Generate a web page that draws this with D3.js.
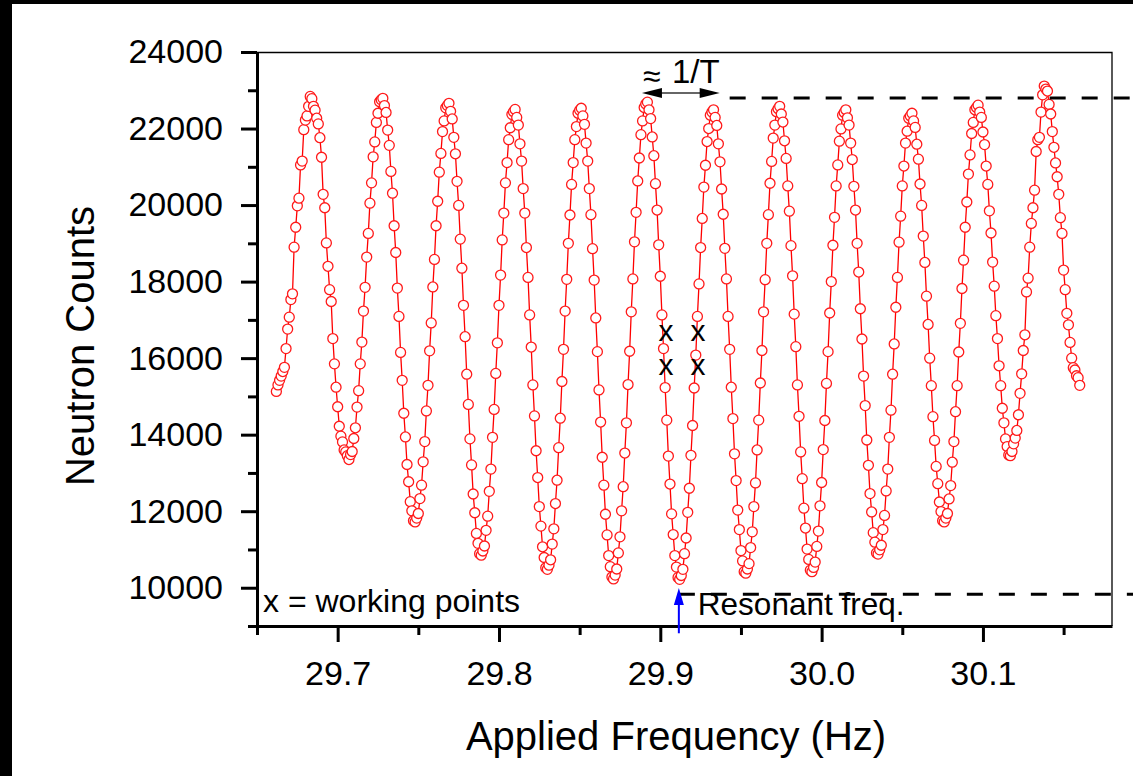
<!DOCTYPE html>
<html>
<head>
<meta charset="utf-8">
<script src="https://cdn.jsdelivr.net/npm/d3@7"></script>
<style>
    body { margin: 0; background: #fff; }
    #chart { width: 1133px; height: 776px; }
    text { font-family: "Liberation Sans", Arial, sans-serif; fill: #000; }
</style>
</head>
<body>
<div id="chart"></div>
<script>

// applied frequency of each point (Hz)
const freq = [
    29.662,29.663,29.664,29.665,29.666,29.667,29.668,29.669,29.670,29.671,
    29.672,29.673,29.674,29.675,29.676,29.677,29.678,29.679,29.680,29.681,
    29.682,29.683,29.684,29.685,29.686,29.687,29.688,29.689,29.690,29.691,
    29.692,29.693,29.694,29.695,29.696,29.697,29.698,29.699,29.700,29.701,
    29.702,29.703,29.704,29.705,29.706,29.707,29.708,29.709,29.710,29.711,
    29.712,29.713,29.714,29.715,29.716,29.717,29.718,29.719,29.720,29.721,
    29.722,29.723,29.724,29.725,29.726,29.727,29.728,29.729,29.730,29.731,
    29.732,29.733,29.734,29.735,29.736,29.737,29.738,29.739,29.740,29.741,
    29.742,29.743,29.744,29.745,29.746,29.747,29.748,29.749,29.750,29.751,
    29.752,29.753,29.754,29.755,29.756,29.757,29.758,29.759,29.760,29.761,
    29.762,29.763,29.764,29.765,29.766,29.767,29.768,29.769,29.770,29.771,
    29.772,29.773,29.774,29.775,29.776,29.777,29.778,29.779,29.780,29.781,
    29.782,29.783,29.784,29.785,29.786,29.787,29.788,29.789,29.790,29.791,
    29.792,29.793,29.794,29.795,29.796,29.797,29.798,29.799,29.800,29.801,
    29.802,29.803,29.804,29.805,29.806,29.807,29.808,29.809,29.810,29.811,
    29.812,29.813,29.814,29.815,29.816,29.817,29.818,29.819,29.820,29.821,
    29.822,29.823,29.824,29.825,29.826,29.827,29.828,29.829,29.830,29.831,
    29.832,29.833,29.834,29.835,29.836,29.837,29.838,29.839,29.840,29.841,
    29.842,29.843,29.844,29.845,29.846,29.847,29.848,29.849,29.850,29.851,
    29.852,29.853,29.854,29.855,29.856,29.857,29.858,29.859,29.860,29.861,
    29.862,29.863,29.864,29.865,29.866,29.867,29.868,29.869,29.870,29.871,
    29.872,29.873,29.874,29.875,29.876,29.877,29.878,29.879,29.880,29.881,
    29.882,29.883,29.884,29.885,29.886,29.887,29.888,29.889,29.890,29.891,
    29.892,29.893,29.894,29.895,29.896,29.897,29.898,29.899,29.900,29.901,
    29.902,29.903,29.904,29.905,29.906,29.907,29.908,29.909,29.910,29.911,
    29.912,29.913,29.914,29.915,29.916,29.917,29.918,29.919,29.920,29.921,
    29.922,29.923,29.924,29.925,29.926,29.927,29.928,29.929,29.930,29.931,
    29.932,29.933,29.934,29.935,29.936,29.937,29.938,29.939,29.940,29.941,
    29.942,29.943,29.944,29.945,29.946,29.947,29.948,29.949,29.950,29.951,
    29.952,29.953,29.954,29.955,29.956,29.957,29.958,29.959,29.960,29.961,
    29.962,29.963,29.964,29.965,29.966,29.967,29.968,29.969,29.970,29.971,
    29.972,29.973,29.974,29.975,29.976,29.977,29.978,29.979,29.980,29.981,
    29.982,29.983,29.984,29.985,29.986,29.987,29.988,29.989,29.990,29.991,
    29.992,29.993,29.994,29.995,29.996,29.997,29.998,29.999,30.000,30.001,
    30.002,30.003,30.004,30.005,30.006,30.007,30.008,30.009,30.010,30.011,
    30.012,30.013,30.014,30.015,30.016,30.017,30.018,30.019,30.020,30.021,
    30.022,30.023,30.024,30.025,30.026,30.027,30.028,30.029,30.030,30.031,
    30.032,30.033,30.034,30.035,30.036,30.037,30.038,30.039,30.040,30.041,
    30.042,30.043,30.044,30.045,30.046,30.047,30.048,30.049,30.050,30.051,
    30.052,30.053,30.054,30.055,30.056,30.057,30.058,30.059,30.060,30.061,
    30.062,30.063,30.064,30.065,30.066,30.067,30.068,30.069,30.070,30.071,
    30.072,30.073,30.074,30.075,30.076,30.077,30.078,30.079,30.080,30.081,
    30.082,30.083,30.084,30.085,30.086,30.087,30.088,30.089,30.090,30.091,
    30.092,30.093,30.094,30.095,30.096,30.097,30.098,30.099,30.100,30.101,
    30.102,30.103,30.104,30.105,30.106,30.107,30.108,30.109,30.110,30.111,
    30.112,30.113,30.114,30.115,30.116,30.117,30.118,30.119,30.120,30.121,
    30.122,30.123,30.124,30.125,30.126,30.127,30.128,30.129,30.130,30.131,
    30.132,30.133,30.134,30.135,30.136,30.137,30.138,30.139,30.140,30.141,
    30.142,30.143,30.144,30.145,30.146,30.147,30.148,30.149,30.150,30.151,
    30.152,30.153,30.154,30.155,30.156,30.157,30.158,30.159,30.160
];

// neutron counts
const counts = [
    15130,15300,15420,15530,15650,15760,16250,16760,17070,17530,
    17680,18900,19420,19980,20180,21050,21150,21970,22220,22330,
    22580,22840,22780,22580,22480,22270,22120,21760,21250,20280,
    19930,19010,18400,17790,17480,16510,15850,15240,14730,14220,
    13960,13810,13600,13550,13450,13350,13480,13560,13900,14180,
    14720,15150,15850,16420,17230,17850,18640,19260,20050,20580,
    21260,21650,22160,22400,22700,22750,22790,22600,22420,21960,
    21560,20880,20310,19460,18760,17830,17090,16150,15420,14560,
    13940,13220,12770,12250,12010,11750,11720,11820,11940,12330,
    12680,13290,13820,14620,15290,16190,16920,17860,18580,19460,
    20100,20860,21350,21920,22200,22540,22600,22660,22450,22250,
    21770,21340,20620,19990,19110,18350,17380,16560,15580,14790,
    13890,13210,12450,11960,11420,11160,10890,10850,10960,11090,
    11500,11870,12520,13100,13930,14660,15600,16400,17380,18170,
    19090,19790,20580,21110,21710,22020,22370,22440,22500,22290,
    22090,21600,21150,20430,19790,18890,18110,17130,16290,15300,
    14490,13580,12880,12120,11610,11070,10790,10520,10480,10590,
    10730,11140,11540,12200,12810,13660,14430,15390,16230,17230,
    18060,19000,19740,20540,21110,21710,22050,22400,22480,22530,
    22330,22110,21620,21150,20430,19750,18860,18040,17050,16170,
    15170,14330,13410,12680,11920,11380,10840,10550,10280,10230,
    10330,10490,10910,11330,12010,12640,13520,14310,15310,16180,
    17210,18070,19040,19810,20630,21230,21840,22200,22550,22640,
    22690,22490,22260,21780,21290,20560,19870,18960,18140,17130,
    16250,15230,14380,13440,12710,11930,11390,10840,10540,10270,
    10220,10320,10480,10890,11300,11970,12600,13460,14240,15220,
    16080,17090,17940,18890,19650,20470,21040,21660,22000,22350,
    22430,22490,22290,22080,21600,21130,20420,19760,18870,18070,
    17090,16230,15240,14420,13500,12800,12030,11520,10970,10700,
    10420,10380,10490,10630,11050,11460,12120,12740,13600,14380,
    15350,16200,17210,18050,19000,19750,20570,21140,21750,22090,
    22440,22520,22580,22380,22170,21680,21220,20500,19840,18940,
    18150,17150,16300,15300,14480,13550,12850,12080,11560,11010,
    10740,10460,10420,10530,10670,11080,11480,12140,12750,13610,
    14370,15340,16170,17180,18000,18950,19680,20500,21050,21670,
    21990,22350,22420,22490,22280,22090,21620,21190,20490,19870,
    19000,18250,17290,16500,15530,14760,13860,13200,12460,11980,
    11440,11190,10910,10880,10990,11110,11520,11890,12530,13100,
    13930,14640,15580,16370,17330,18110,19030,19710,20500,21020,
    21620,21930,22270,22330,22400,22200,22030,21590,21200,20550,
    19990,19190,18500,17620,16880,16000,15280,14470,13850,13170,
    12720,12240,11990,11750,11720,11820,11940,12320,12670,13280,
    13820,14600,15280,16160,16910,17820,18560,19420,20080,20810,
    21310,21870,22160,22490,22550,22610,22430,22290,21910,21580,
    21020,20540,19850,19270,18510,17880,17110,16510,15800,15280,
    14690,14310,13890,13690,13470,13450,13560,13760,13910,14110,
    14520,15080,15590,16200,16610,17730,18090,18900,19520,19930,
    20390,21400,21710,21770,22430,22880,23110,23030,22980,22630,
    22380,21920,21510,21100,20740,20280,19670,19260,18300,17790,
    17170,16870,16410,16000,15750,15690,15540,15490,15290
];

// axis ticks
const xMajorTicks = [29.7, 29.8, 29.9, 30.0, 30.1];
const xMinorTicks = [29.65, 29.75, 29.85, 29.95, 30.05, 30.15];
const yMajorTicks = [10000, 12000, 14000, 16000, 18000, 20000, 22000, 24000];
const yMinorTicks = [9000, 11000, 13000, 15000, 17000, 19000, 21000, 23000];

// working points (x marks)
const workFreq = [29.9035, 29.9233, 29.9035, 29.9233];
const workCounts = [16650, 16650, 15770, 15770];

// annotation values
const resonantFreq = 29.9115;
const lowLevel = 9830;       // lower dashed line
const highLevel = 22800;     // upper dashed line
const periodStart = 29.8886; // 1/T arrow
const periodEnd = 29.9368;
const periodLevel = 22930;


class FringePlot {

    constructor(parentElement) {
        this.parentElement = parentElement;
        this.data = freq.map((f, i) => ({f: f, c: counts[i]}));
        this.initVis();
    }

    /*
     * Initialize visualization (frame, scales, axes)
     */
    initVis() {
        let vis = this;

        vis.totalWidth = 1133;
        vis.totalHeight = 776;
        vis.margin = {top: 52, right: 21, bottom: 150, left: 257};
        vis.width = vis.totalWidth - vis.margin.left - vis.margin.right;
        vis.height = vis.totalHeight - vis.margin.top - vis.margin.bottom;

        vis.root = d3.select("#" + vis.parentElement).append("svg")
            .attr("width", vis.totalWidth)
            .attr("height", vis.totalHeight);

        // black edges of the scanned page
        vis.root.append("rect")
            .attr("x", 0).attr("y", 0)
            .attr("width", vis.totalWidth).attr("height", 4)
            .attr("fill", "#000");
        vis.root.append("rect")
            .attr("x", 0).attr("y", 0)
            .attr("width", 12).attr("height", vis.totalHeight)
            .attr("fill", "#000");

        vis.svg = vis.root.append("g")
            .attr("transform", `translate(${vis.margin.left}, ${vis.margin.top})`);

        // Scales
        vis.x = d3.scaleLinear()
            .domain([29.65, 30.18])
            .range([0, vis.width]);

        vis.y = d3.scaleLinear()
            .domain([9000, 24000])
            .range([vis.height, 0]);

        // thin top and right border
        vis.svg.append("path")
            .attr("d", `M0,0.5H${vis.width}V${vis.height}`)
            .attr("fill", "none")
            .attr("stroke", "#000")
            .attr("stroke-width", 1.3);

        vis.updateVis();
    }

    /*
     * The drawing function
     */
    updateVis() {
        let vis = this;

        let line = d3.line()
            .x(d => vis.x(d.f))
            .y(d => vis.y(d.c));

        vis.svg.append("path")
            .datum(vis.data)
            .attr("d", line)
            .attr("fill", "none")
            .attr("stroke", "#ff0000")
            .attr("stroke-width", 1.3);

        vis.svg.selectAll(".pt")
            .data(vis.data)
            .enter().append("circle")
            .attr("class", "pt")
            .attr("cx", d => vis.x(d.f))
            .attr("cy", d => vis.y(d.c))
            .attr("r", 5)
            .attr("fill", "#fff")
            .attr("stroke", "#ff1a1a")
            .attr("stroke-width", 1.3);

        // Axes
        let yAxis = d3.axisLeft(vis.y)
            .tickValues(yMajorTicks)
            .tickSize(16)
            .tickSizeOuter(0)
            .tickPadding(18)
            .tickFormat(d3.format("d"));
        let yMinor = d3.axisLeft(vis.y)
            .tickValues(yMinorTicks)
            .tickSize(9)
            .tickFormat("");
        let xAxis = d3.axisBottom(vis.x)
            .tickValues(xMajorTicks)
            .tickSize(16)
            .tickSizeOuter(0)
            .tickPadding(19)
            .tickFormat(d3.format(".1f"));
        let xMinor = d3.axisBottom(vis.x)
            .tickValues(xMinorTicks)
            .tickSize(9)
            .tickFormat("");

        let gy = vis.svg.append("g").attr("class", "y-axis axis").call(yAxis);
        let gym = vis.svg.append("g").attr("class", "y-axis minor").call(yMinor);
        let gx = vis.svg.append("g").attr("class", "x-axis axis")
            .attr("transform", `translate(0, ${vis.height})`).call(xAxis);
        let gxm = vis.svg.append("g").attr("class", "x-axis minor")
            .attr("transform", `translate(0, ${vis.height})`).call(xMinor);

        gym.select(".domain").remove();
        gxm.select(".domain").remove();
        [gy, gym, gx, gxm].forEach(g => {
            g.selectAll("line").attr("stroke", "#000").attr("stroke-width", 3);
            g.selectAll(".domain").attr("stroke", "#000").attr("stroke-width", 3);
            g.selectAll("text")
                .style("font-family", '"Liberation Sans", Arial, sans-serif')
                .style("font-size", "34px")
                .attr("fill", "#000");
        });

        // Axis titles
        vis.root.append("text")
            .attr("x", 676)
            .attr("y", 750)
            .attr("text-anchor", "middle")
            .style("font-size", "40px")
            .text("Applied Frequency (Hz)");

        vis.root.append("text")
            .attr("transform", "translate(94, 346) rotate(-90)")
            .attr("text-anchor", "middle")
            .style("font-size", "40px")
            .text("Neutron Counts");

        // working points
        vis.svg.selectAll(".wp")
            .data(workFreq)
            .enter().append("text")
            .attr("class", "wp")
            .attr("x", d => vis.x(d))
            .attr("y", (d, i) => vis.y(workCounts[i]) + 8)
            .attr("text-anchor", "middle")
            .style("font-size", "30px")
            .text("x");

        // dashed guide lines, running out to the page edge
        let edge = vis.totalWidth - vis.margin.left;
        vis.svg.append("line")
            .attr("x1", vis.x(periodEnd) + 10).attr("x2", edge)
            .attr("y1", vis.y(highLevel)).attr("y2", vis.y(highLevel))
            .attr("stroke", "#000").attr("stroke-width", 3)
            .attr("stroke-dasharray", "16,16");
        vis.svg.append("line")
            .attr("x1", vis.x(resonantFreq)).attr("x2", edge)
            .attr("y1", vis.y(lowLevel)).attr("y2", vis.y(lowLevel))
            .attr("stroke", "#000").attr("stroke-width", 3)
            .attr("stroke-dasharray", "16,16");

        // 1/T double arrow
        let ay = vis.y(periodLevel);
        let ax0 = vis.x(periodStart), ax1 = vis.x(periodEnd);
        vis.svg.append("line")
            .attr("x1", ax0 + 18).attr("x2", ax1 - 18)
            .attr("y1", ay).attr("y2", ay)
            .attr("stroke", "#333").attr("stroke-width", 1.5);
        vis.svg.append("path")
            .attr("d", `M${ax0},${ay}L${ax0 + 20},${ay - 5}L${ax0 + 20},${ay + 5}Z`)
            .attr("fill", "#000");
        vis.svg.append("path")
            .attr("d", `M${ax1},${ay}L${ax1 - 20},${ay - 5}L${ax1 - 20},${ay + 5}Z`)
            .attr("fill", "#000");
        vis.svg.append("text")
            .attr("x", ax0 + 1)
            .attr("y", ay - 6)
            .style("font-size", "32px")
            .text("\u2248");
        vis.svg.append("text")
            .attr("x", ax0 + 30)
            .attr("y", ay - 10)
            .style("font-size", "33px")
            .text("1/T");

        // resonance arrow (blue)
        let rx = vis.x(resonantFreq);
        let tipY = vis.y(9990);
        vis.svg.append("line")
            .attr("x1", rx).attr("x2", rx)
            .attr("y1", vis.y(8810)).attr("y2", tipY + 14)
            .attr("stroke", "#0000ff").attr("stroke-width", 2);
        vis.svg.append("path")
            .attr("d", `M${rx},${tipY}L${rx - 5},${tipY + 17}L${rx + 5},${tipY + 17}Z`)
            .attr("fill", "#0000ff");

        vis.svg.append("text")
            .attr("x", rx + 19)
            .attr("y", 563)
            .style("font-size", "31.5px")
            .text("Resonant freq.");

        vis.svg.append("text")
            .attr("x", 6)
            .attr("y", 560)
            .style("font-size", "32px")
            .text("x = working points");
    }
}

new FringePlot("chart");

</script>
</body>
</html>
